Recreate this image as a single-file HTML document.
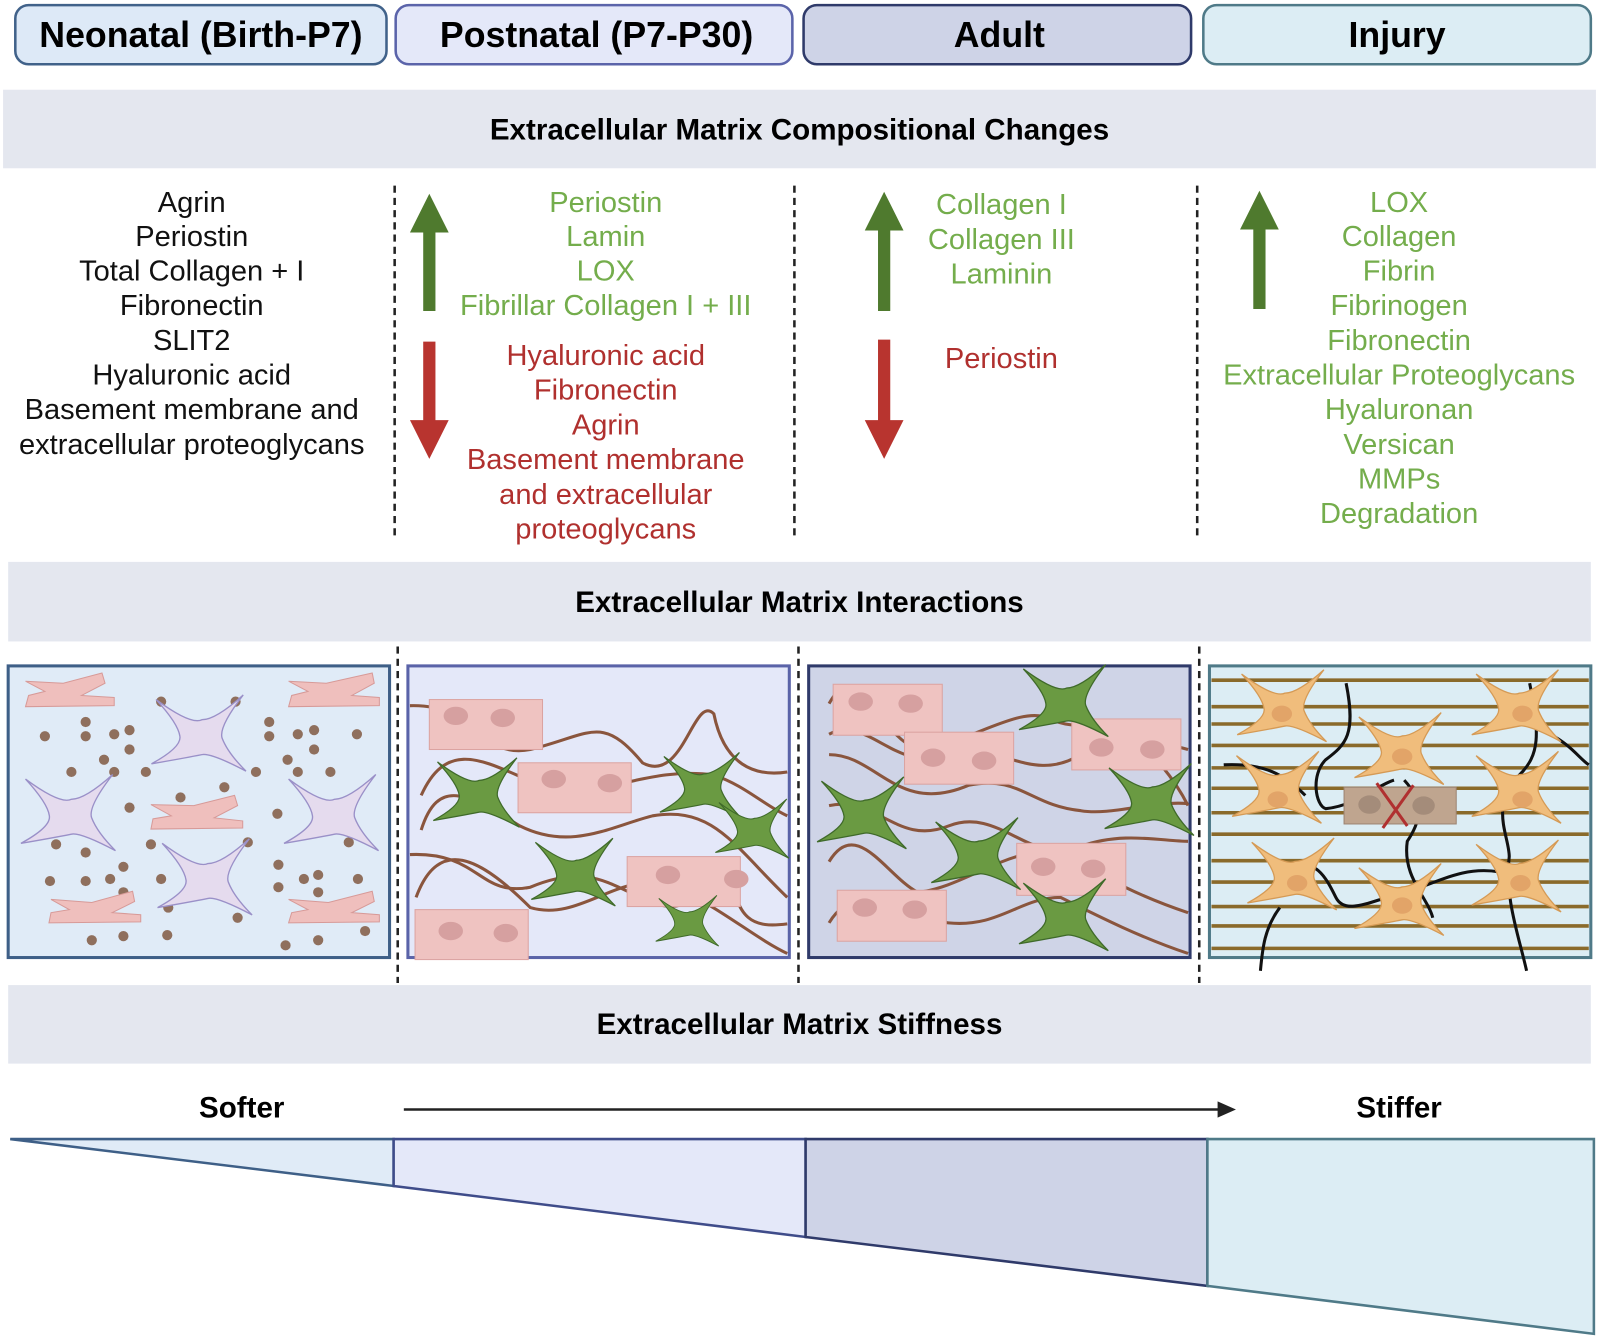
<!DOCTYPE html>
<html><head><meta charset="utf-8"><style>
html,body{margin:0;padding:0;background:#fff}
svg{display:block}
text{font-family:"Liberation Sans",sans-serif}
.h{font-size:35px;font-weight:bold;text-anchor:middle}
.t{font-size:29px;font-weight:bold;text-anchor:middle}
.n{font-size:28.5px;text-anchor:middle;fill:#111}
.g{font-size:28.5px;text-anchor:middle;fill:#74ad4c}
.r{font-size:28.5px;text-anchor:middle;fill:#b0302e}
.dl{stroke:#222;stroke-width:2.5;stroke-dasharray:7,5}
</style></head><body>
<svg width="1599" height="1342" viewBox="0 0 1568 1316" xmlns="http://www.w3.org/2000/svg">
<defs>
<symbol id="star" viewBox="-60 -50 120 100" overflow="visible">
<path d="M-50,-40 Q-12,-12 0,-18 Q15,-18 45,-45 Q18,-10 22,2 Q28,18 48,38 Q10,18 0,20 Q-20,24 -55,30 Q-22,12 -24,0 Q-26,-14 -50,-40Z"/>
</symbol>
<g id="fib"><use href="#star" x="-60" y="-50" width="120" height="100"/></g>
</defs>
<!-- headers -->
<rect x="15" y="5" width="364" height="58" rx="13" fill="#dde9f7" stroke="#41628a" stroke-width="2.5"/>
<rect x="388" y="5" width="389" height="58" rx="13" fill="#e4e8f9" stroke="#5b64aa" stroke-width="2.5"/>
<rect x="788" y="5" width="380" height="58" rx="13" fill="#ced3e7" stroke="#2f3a6a" stroke-width="2.5"/>
<rect x="1180" y="5" width="380" height="58" rx="13" fill="#dcedf4" stroke="#4f7a88" stroke-width="2.5"/>
<text class="h" x="197" y="46">Neonatal (Birth-P7)</text>
<text class="h" x="585" y="46">Postnatal (P7-P30)</text>
<text class="h" x="980" y="46">Adult</text>
<text class="h" x="1370" y="46">Injury</text>
<!-- band1 -->
<rect x="3" y="88" width="1562" height="77" fill="#e4e7ef"/>
<text class="t" x="784" y="137">Extracellular Matrix Compositional Changes</text>
<g class="n">
<text x="188" y="208">Agrin</text><text x="188" y="241">Periostin</text><text x="188" y="275">Total Collagen + I</text>
<text x="188" y="309">Fibronectin</text><text x="188" y="343">SLIT2</text><text x="188" y="377">Hyaluronic acid</text>
<text x="188" y="411">Basement membrane and</text><text x="188" y="445">extracellular proteoglycans</text>
</g>
<line class="dl" x1="387" y1="182" x2="387" y2="530"/>
<line class="dl" x1="779" y1="182" x2="779" y2="530"/>
<line class="dl" x1="1174" y1="182" x2="1174" y2="530"/>
<!-- arrows -->
<g fill="#4f7a2e">
<path d="M415,305 V228 H402 L421,190 L440,228 H427 V305Z"/>
<path d="M861,305 V226 H848 L867,188 L886,226 H873 V305Z"/>
<path d="M1229,303 V225 H1216 L1235,187 L1254,225 H1241 V303Z"/>
</g>
<g fill="#b8342f">
<path d="M415,335 V412 H402 L421,450 L440,412 H427 V335Z"/>
<path d="M861,333 V412 H848 L867,450 L886,412 H873 V333Z"/>
</g>
<g class="g">
<text x="594" y="208">Periostin</text><text x="594" y="241">Lamin</text><text x="594" y="275">LOX</text><text x="594" y="309">Fibrillar Collagen I + III</text>
<text x="982" y="210">Collagen I</text><text x="982" y="244">Collagen III</text><text x="982" y="278">Laminin</text>
<text x="1372" y="208">LOX</text><text x="1372" y="241">Collagen</text><text x="1372" y="275">Fibrin</text><text x="1372" y="309">Fibrinogen</text>
<text x="1372" y="343">Fibronectin</text><text x="1372" y="377">Extracellular Proteoglycans</text><text x="1372" y="411">Hyaluronan</text>
<text x="1372" y="445">Versican</text><text x="1372" y="479">MMPs</text><text x="1372" y="513">Degradation</text>
</g>
<g class="r">
<text x="594" y="358">Hyaluronic acid</text><text x="594" y="392">Fibronectin</text><text x="594" y="426">Agrin</text>
<text x="594" y="460">Basement membrane</text><text x="594" y="494">and extracellular</text><text x="594" y="528">proteoglycans</text>
<text x="982" y="361">Periostin</text>
</g>
<!-- band2 -->
<rect x="8" y="551" width="1552" height="78" fill="#e4e7ef"/>
<text class="t" x="784" y="600">Extracellular Matrix  Interactions</text>
<line class="dl" x1="390" y1="634" x2="390" y2="964"/>
<line class="dl" x1="783" y1="634" x2="783" y2="964"/>
<line class="dl" x1="1176" y1="634" x2="1176" y2="964"/>
<!-- panel1 -->
<rect x="8" y="653" width="374" height="286" fill="#e0ebf7" stroke="#3e5f87" stroke-width="3"/>
<g fill="#8f6f5d">
<circle cx="84" cy="708" r="5"/><circle cx="127" cy="716" r="5"/><circle cx="44" cy="722" r="5"/><circle cx="84" cy="722" r="5"/><circle cx="112" cy="720" r="5"/><circle cx="127" cy="735" r="5"/><circle cx="102" cy="745" r="5"/><circle cx="70" cy="757" r="5"/><circle cx="112" cy="757" r="5"/><circle cx="143" cy="757" r="5"/><circle cx="158" cy="688" r="5"/><circle cx="231" cy="688" r="5"/><circle cx="264" cy="708" r="5"/><circle cx="308" cy="716" r="5"/><circle cx="264" cy="722" r="5"/><circle cx="292" cy="720" r="5"/><circle cx="350" cy="720" r="5"/><circle cx="282" cy="745" r="5"/><circle cx="308" cy="735" r="5"/><circle cx="292" cy="757" r="5"/><circle cx="324" cy="757" r="5"/><circle cx="251" cy="757" r="5"/><circle cx="220" cy="772" r="5"/><circle cx="127" cy="792" r="5"/><circle cx="177" cy="782" r="5"/><circle cx="272" cy="798" r="5"/><circle cx="55" cy="828" r="5"/><circle cx="84" cy="836" r="5"/><circle cx="121" cy="850" r="5"/><circle cx="148" cy="828" r="5"/><circle cx="243" cy="826" r="5"/><circle cx="273" cy="848" r="5"/><circle cx="312" cy="858" r="5"/><circle cx="342" cy="826" r="5"/><circle cx="49" cy="864" r="5"/><circle cx="84" cy="864" r="5"/><circle cx="108" cy="862" r="5"/><circle cx="121" cy="875" r="5"/><circle cx="158" cy="862" r="5"/><circle cx="273" cy="870" r="5"/><circle cx="298" cy="862" r="5"/><circle cx="312" cy="875" r="5"/><circle cx="351" cy="862" r="5"/><circle cx="233" cy="900" r="5"/><circle cx="165" cy="890" r="5"/><circle cx="90" cy="922" r="5"/><circle cx="121" cy="918" r="5"/><circle cx="164" cy="917" r="5"/><circle cx="280" cy="927" r="5"/><circle cx="312" cy="922" r="5"/><circle cx="358" cy="913" r="5"/>
</g>
<g fill="#e5dbee" stroke="#9a90c8" stroke-width="1.5">
<use href="#fib" transform="translate(198,722) scale(0.9)"/>
<use href="#fib" transform="translate(70,800) scale(0.9)"/>
<use href="#fib" transform="translate(328,800) scale(0.9)"/>
<use href="#fib" transform="translate(204,863) scale(0.9)"/>
</g>
<g fill="#efbfbd" stroke="#d79a98" stroke-width="1">
<path d="M25,668 L62,670 L100,660 L103,670 L80,682 L112,684 L112,692 L25,693 L28,682 L44,678 Z"/>
<path d="M283,668 L320,670 L365,660 L367,670 L345,682 L372,684 L372,692 L283,693 L286,682 L302,678 Z"/>
<path d="M148,789 L190,790 L230,780 L233,790 L210,802 L238,805 L238,812 L148,813 L150,803 L168,800 Z"/>
<path d="M50,882 L90,885 L130,874 L132,884 L110,895 L138,897 L138,904 L48,905 L50,895 L68,892 Z"/>
<path d="M283,882 L322,885 L365,874 L367,884 L345,895 L372,897 L372,904 L283,905 L286,895 L302,892 Z"/>
</g>
<!-- panel2 -->
<rect x="400" y="653" width="374" height="286" fill="#e4e8f9" stroke="#5a63a8" stroke-width="3"/>
<g fill="none" stroke="#8a553d" stroke-width="3">
<path d="M402,692 C470,690 470,745 520,735 C580,720 590,700 630,748 C670,770 680,680 700,700 C710,750 740,762 772,757"/>
<path d="M413,814 C430,760 460,780 510,810 C560,835 600,810 640,800 C700,790 720,830 772,880"/>
<path d="M408,880 C430,820 470,840 520,890 C570,905 610,850 660,870 C700,885 740,920 772,935"/>
<path d="M402,838 C470,835 470,880 520,870 C580,845 600,870 640,885 C690,905 700,840 716,845 C720,905 740,910 772,906"/>
<path d="M413,780 C440,720 480,750 530,770 C580,790 630,750 700,760 C730,770 750,790 772,800"/>
</g>
<g fill="#efc3c1" stroke="#dba3a1" stroke-width="1">
<rect x="421" y="686" width="111" height="49"/>
<rect x="508" y="748" width="111" height="49"/>
<rect x="615" y="840" width="111" height="49"/>
<rect x="407" y="892" width="111" height="49"/>
</g>
<g fill="#d6a0a0">
<ellipse cx="447" cy="702" rx="12" ry="9"/><ellipse cx="493" cy="704" rx="12" ry="9"/>
<ellipse cx="543" cy="764" rx="12" ry="9"/><ellipse cx="598" cy="768" rx="12" ry="9"/>
<ellipse cx="655" cy="858" rx="12" ry="9"/><ellipse cx="722" cy="862" rx="12" ry="9"/>
<ellipse cx="442" cy="913" rx="12" ry="9"/><ellipse cx="496" cy="915" rx="12" ry="9"/>
</g>
<g fill="#6a9a42" stroke="#3f6a2a" stroke-width="1.5">
<use href="#fib" transform="translate(690,773) scale(0.78)"/>
<use href="#fib" transform="translate(470,780) scale(0.82)"/>
<use href="#fib" transform="translate(740,815) scale(0.7)"/>
<use href="#fib" transform="translate(565,858) scale(0.8)"/>
<use href="#fib" transform="translate(676,905) scale(0.6)"/>
</g>
<!-- panel3 -->
<rect x="793" y="653" width="374" height="286" fill="#cfd4e7" stroke="#2f3a6a" stroke-width="3"/>
<g fill="none" stroke="#8a553d" stroke-width="3">
<path d="M813,690 C840,640 860,720 900,735 C950,730 1000,690 1030,705 C1060,720 1080,700 1110,720 C1130,740 1150,760 1165,790"/>
<path d="M813,720 C850,700 880,760 930,740 C980,725 1010,770 1060,740 C1080,720 1110,720 1165,735"/>
<path d="M813,740 C860,740 880,800 950,770 C1000,760 1010,790 1060,795 C1090,800 1130,785 1165,788"/>
<path d="M813,790 C860,780 880,830 930,810 C980,790 1010,850 1060,830 C1100,815 1140,825 1165,825"/>
<path d="M813,845 C840,800 870,860 900,875 C950,870 1000,820 1050,840 C1080,860 1120,880 1165,895"/>
<path d="M813,905 C840,860 880,900 930,905 C980,910 1000,880 1040,880 C1080,900 1120,920 1165,935"/>
</g>
<g fill="#efc3c1" stroke="#dba3a1" stroke-width="1">
<rect x="817" y="671" width="107" height="50"/>
<rect x="1051" y="705" width="107" height="50"/>
<rect x="887" y="718" width="107" height="51"/>
<rect x="997" y="827" width="107" height="51"/>
<rect x="821" y="873" width="107" height="50"/>
</g>
<g fill="#d6a0a0">
<ellipse cx="844" cy="688" rx="12" ry="9"/><ellipse cx="893" cy="690" rx="12" ry="9"/>
<ellipse cx="1080" cy="733" rx="12" ry="9"/><ellipse cx="1130" cy="735" rx="12" ry="9"/>
<ellipse cx="915" cy="743" rx="12" ry="9"/><ellipse cx="965" cy="746" rx="12" ry="9"/>
<ellipse cx="1023" cy="850" rx="12" ry="9"/><ellipse cx="1072" cy="852" rx="12" ry="9"/>
<ellipse cx="848" cy="890" rx="12" ry="9"/><ellipse cx="897" cy="892" rx="12" ry="9"/>
</g>
<g fill="#6a9a42" stroke="#3f6a2a" stroke-width="1.5">
<use href="#fib" transform="translate(1046,690) scale(0.85)"/>
<use href="#fib" transform="translate(1130,787) scale(0.85)"/>
<use href="#fib" transform="translate(848,800) scale(0.85)"/>
<use href="#fib" transform="translate(960,840) scale(0.85)"/>
<use href="#fib" transform="translate(1046,900) scale(0.85)"/>
</g>
<!-- panel4 -->
<rect x="1186" y="653" width="374" height="286" fill="#dcedf4" stroke="#4f7a88" stroke-width="3"/>
<g stroke="#8a6a2a" stroke-width="3.5">
<line x1="1188" y1="667" x2="1558" y2="667"/><line x1="1188" y1="693" x2="1558" y2="693"/><line x1="1188" y1="710" x2="1558" y2="710"/><line x1="1188" y1="731" x2="1558" y2="731"/><line x1="1188" y1="753" x2="1558" y2="753"/><line x1="1188" y1="773" x2="1558" y2="773"/><line x1="1188" y1="797" x2="1558" y2="797"/><line x1="1188" y1="818" x2="1558" y2="818"/><line x1="1188" y1="844" x2="1558" y2="844"/><line x1="1188" y1="865" x2="1558" y2="865"/><line x1="1188" y1="889" x2="1558" y2="889"/><line x1="1188" y1="908" x2="1558" y2="908"/><line x1="1188" y1="930" x2="1558" y2="930"/>
</g>
<g fill="none" stroke="#111" stroke-width="3">
<path d="M1320,670 C1330,720 1320,730 1300,745 C1285,760 1290,790 1300,793 C1330,790 1350,770 1367,765"/>
<path d="M1200,750 C1240,748 1260,760 1280,780"/>
<path d="M1500,670 C1510,720 1510,740 1490,760 C1460,790 1480,820 1480,840 C1475,880 1490,920 1497,952"/>
<path d="M1520,720 C1540,730 1550,745 1558,750"/>
<path d="M1377,765 C1400,790 1390,810 1380,825 C1375,860 1400,880 1405,900"/>
<path d="M1262,850 C1290,840 1300,860 1310,880 C1320,900 1350,880 1380,875 C1420,860 1440,850 1470,855"/>
<path d="M1255,890 C1240,910 1238,930 1236,952"/>
</g>
<g fill="#f0bd7c" stroke="#d59a55" stroke-width="1.5">
<use href="#fib" transform="translate(1260,695) scale(0.85)"/>
<use href="#fib" transform="translate(1490,695) scale(0.85)"/>
<use href="#fib" transform="translate(1375,737) scale(0.85)"/>
<use href="#fib" transform="translate(1255,775) scale(0.85)"/>
<use href="#fib" transform="translate(1490,775) scale(0.85)"/>
<use href="#fib" transform="translate(1270,860) scale(0.85)"/>
<use href="#fib" transform="translate(1375,885) scale(0.85)"/>
<use href="#fib" transform="translate(1490,862) scale(0.85)"/>
</g>
<g fill="#e2a468"><ellipse cx="1257" cy="700" rx="10" ry="8"/><ellipse cx="1493" cy="700" rx="10" ry="8"/><ellipse cx="1375" cy="742" rx="10" ry="8"/><ellipse cx="1253" cy="784" rx="10" ry="8"/><ellipse cx="1493" cy="784" rx="10" ry="8"/><ellipse cx="1272" cy="866" rx="10" ry="8"/><ellipse cx="1375" cy="888" rx="10" ry="8"/><ellipse cx="1491" cy="866" rx="10" ry="8"/></g>
<rect x="1318" y="772" width="110" height="36" fill="#bfa58f" stroke="#9c8472" stroke-width="1"/>
<ellipse cx="1343" cy="789" rx="11" ry="9" fill="#a48c7a"/><ellipse cx="1396" cy="790" rx="11" ry="9" fill="#a48c7a"/>
<path d="M1350,768 L1380,810 M1386,770 L1356,812" stroke="#b03030" stroke-width="3"/>
<!-- band3 -->
<rect x="8" y="966" width="1552" height="77" fill="#e4e7ef"/>
<text class="t" x="784" y="1014">Extracellular Matrix Stiffness</text>
<text class="t" x="237" y="1096">Softer</text>
<text class="t" x="1372" y="1096">Stiffer</text>
<line x1="396" y1="1088" x2="1195" y2="1088" stroke="#222" stroke-width="2.5"/>
<path d="M1212,1088 L1194,1080 L1194,1096Z" fill="#222"/>
<!-- wedge -->
<path d="M10,1117 L386,1117 L386,1163Z" fill="#e0ebf7" stroke="#3e5f87" stroke-width="2.5"/>
<path d="M386,1117 L790,1117 L790,1213 L386,1163Z" fill="#e4e8f9" stroke="#3f4c8a" stroke-width="2.5"/>
<path d="M790,1117 L1184,1117 L1184,1261 L790,1213Z" fill="#ced3e7" stroke="#2f3a6a" stroke-width="2.5"/>
<path d="M1184,1117 L1563,1117 L1563,1308 L1184,1261Z" fill="#dcedf4" stroke="#4f7a88" stroke-width="2.5"/>
</svg>
</body></html>
